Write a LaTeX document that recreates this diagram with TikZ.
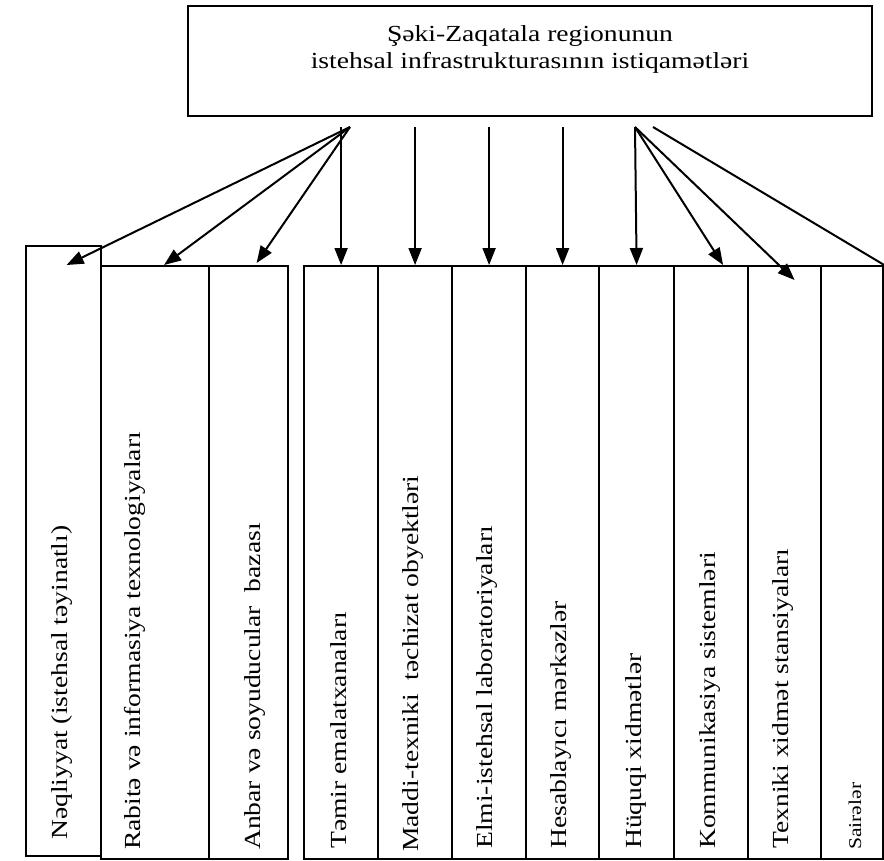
\documentclass[tikz,border=0pt]{standalone}
\usepackage{fontspec}
\setmainfont{Liberation Serif}
\newfontfamily\colfont[FakeStretch=1.2]{Liberation Serif}
\usepackage{tikz}
\usetikzlibrary{arrows.meta, positioning, calc}
\tikzstyle{column} = [rectangle, draw=black, line width=2.2pt, anchor=north west, minimum height=593pt, inner sep=0pt]
\tikzstyle{coltext} = [rotate=90, anchor=west, inner sep=0pt, font=\colfont\fontsize{23}{28}\selectfont]
\tikzstyle{arrow} = [line width=2pt,->,>={Triangle[length=17pt,width=13pt]}]

\begin{document}
\begin{tikzpicture}[x=1pt, y=-1pt]
    \useasboundingbox (0,0) rectangle (884,860);

    % Title
    \node[rectangle, draw=black, line width=2.2pt, minimum width=684pt, minimum height=110pt, anchor=north] (title) at (530,5) {};
    \node[align=center, font=\colfont\fontsize{23}{27}\selectfont] (titletext) at (530,49) {Şəki-Zaqatala regionunun\\istehsal infrastrukturasının istiqamətləri};
    \coordinate (fanL) at (350,127);
    \coordinate (fanR) at (635,127);
    \coordinate (fanR2) at (653,127);

    % Transport
    \node[column, minimum width=75pt, minimum height=610pt] (neqliyyat) at (25,245) {};
    \node[coltext] (neqliyyatT) at (62,840) {Nəqliyyat (istehsal təyinatlı)};

    % Communication and storage
    \node[column, minimum width=108pt] (rabite) at (100,265) {};
    \node[column, minimum width=79pt] (anbar) at (208,265) {};
    \node[coltext] (rabiteT) at (135,850) {Rabitə və informasiya texnologiyaları};
    \node[coltext] (anbarT) at (255,850) {Anbar və soyuducular~ bazası};

    % Services
    \node[column, minimum width=74pt] (temir) at (303,265) {};
    \node[column, minimum width=74pt] (maddi) at (377,265) {};
    \node[column, minimum width=74pt] (elmi) at (451,265) {};
    \node[column, minimum width=73pt] (hesab) at (525,265) {};
    \node[column, minimum width=75pt] (huquq) at (598,265) {};
    \node[column, minimum width=74pt] (kommun) at (673,265) {};
    \node[column, minimum width=73pt] (texniki) at (747,265) {};
    \node[column, minimum width=62pt] (sair) at (820,265) {};
    \node[coltext] (temirT) at (339,849) {Təmir emalatxanaları};
    \node[coltext] (maddiT) at (413,852) {Maddi-texniki~ təchizat obyektləri};
    \node[coltext] (elmiT) at (487,849) {Elmi-istehsal laboratoriyaları};
    \node[coltext] (hesabT) at (561,849) {Hesablayıcı mərkəzlər};
    \node[coltext] (huquqT) at (636,849) {Hüquqi xidmətlər};
    \node[coltext] (kommunT) at (710,849) {Kommunikasiya sistemləri};
    \node[coltext] (texnikiT) at (783,849) {Texniki xidmət stansiyaları};
    \node[coltext, font=\colfont\fontsize{18}{22}\selectfont] (sairT) at (855,850) {Sairələr};

    % Arrows, left fan
    \draw[arrow] (fanL) -- ($(neqliyyat.north)+(3,20)$);
    \draw[arrow] (fanL) -- ($(rabite.north)+(9,0)$);
    \draw[arrow] (fanL) -- ($(anbar.north)+(8,-2)$);

    % Arrows, straight down
    \draw[arrow] (temir.north |- fanL) -- (temir.north);
    \draw[arrow] (maddi.north |- fanL) -- (maddi.north);
    \draw[arrow] (elmi.north |- fanL) -- (elmi.north);
    \draw[arrow] (hesab.north |- fanL) -- (hesab.north);
    \draw[arrow] (fanR) -- (huquq.north);

    % Arrows, right fan
    \draw[arrow] (fanR) -- ($(kommun.north)+(12,0)$);
    \draw[arrow] (fanR) -- ($(texniki.north)+(10,15)$);
    \draw[line width=2pt] (fanR2) -- (sair.north east);
\end{tikzpicture}
\end{document}
